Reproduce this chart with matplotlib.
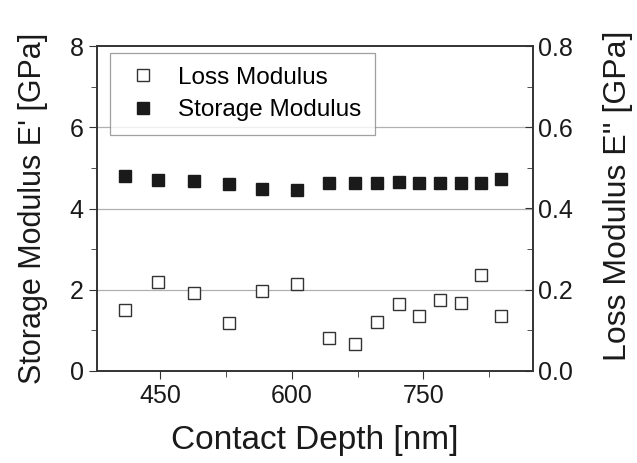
import matplotlib
matplotlib.use("Agg")
from matplotlib import pyplot as plt
from matplotlib.ticker import MultipleLocator, FormatStrFormatter

plt.rcParams['font.family'] = ['Liberation Sans', 'DejaVu Sans']

# Datos
depth = [410, 447, 489, 529, 566, 606, 643, 672, 697, 722, 745, 769, 793, 816, 839]
storage = [4.80, 4.70, 4.68, 4.61, 4.48, 4.46, 4.62, 4.64, 4.62, 4.65, 4.62, 4.62, 4.63, 4.62, 4.73]
loss = [0.150, 0.218, 0.191, 0.117, 0.197, 0.214, 0.081, 0.066, 0.121, 0.164, 0.135, 0.175, 0.167, 0.236, 0.135]
x_ticks = [450, 600, 750]

fig = plt.figure(figsize=(6.37, 4.63), dpi=100)
ax = fig.add_axes([97 / 637, 1 - 371 / 463, 436 / 637, 325 / 463])
ax2 = ax.twinx()

# Grilla horizontal
for v in [2, 4, 6]:
    ax.axhline(v, color='#b0b0b0', lw=0.9, zorder=0)

s1, = ax.plot(depth, storage, ls='none', marker='s', ms=8, mfc='#1a1a1a', mec='#1a1a1a', label='Storage Modulus')
l1, = ax2.plot(depth, loss, ls='none', marker='s', ms=8, mfc='white', mec='#333333', mew=1.0, label='Loss Modulus')

ax.set_xlim(378, 875)
ax.set_ylim(0, 8)
ax2.set_ylim(0, 0.8)

ax.set_xticks(x_ticks)
ax.xaxis.set_minor_locator(MultipleLocator(75))
ax.yaxis.set_major_locator(MultipleLocator(2))
ax.yaxis.set_minor_locator(MultipleLocator(1))
ax2.yaxis.set_major_locator(MultipleLocator(0.2))
ax2.yaxis.set_minor_locator(MultipleLocator(0.1))
ax2.yaxis.set_major_formatter(FormatStrFormatter('%.1f'))

ax.tick_params(axis='both', which='major', labelsize=18, direction='out', length=6, color='#333333', labelcolor='#1a1a1a')
ax.tick_params(axis='both', which='minor', direction='out', length=4, color='#333333')
ax2.tick_params(axis='y', which='major', labelsize=18, direction='in', length=6, color='#333333', labelcolor='#1a1a1a')
ax2.tick_params(axis='y', which='minor', direction='in', length=4, color='#333333')

for a in (ax, ax2):
    for sp in a.spines.values():
        sp.set_color('#333333')
        sp.set_linewidth(1.2)

ax.set_xlabel('Contact Depth [nm]', fontsize=24, color='#1a1a1a', labelpad=12)
ax.set_ylabel("Storage Modulus E' [GPa]", fontsize=22, color='#1a1a1a', labelpad=16)
ax2.set_ylabel("Loss Modulus E'' [GPa]", fontsize=23, color='#1a1a1a', labelpad=22)
ax2.yaxis.label.set_y(0.54)

leg = ax.legend(handles=[l1, s1], loc='upper left', bbox_to_anchor=(0.03, 0.978), fontsize=17.5,
                frameon=True, fancybox=False, edgecolor='#888888', handlelength=1.6,
                handletextpad=0.66, borderpad=0.55, labelspacing=0.45, borderaxespad=0)
leg.get_frame().set_linewidth(0.9)

fig.savefig('out.png', dpi=100)
